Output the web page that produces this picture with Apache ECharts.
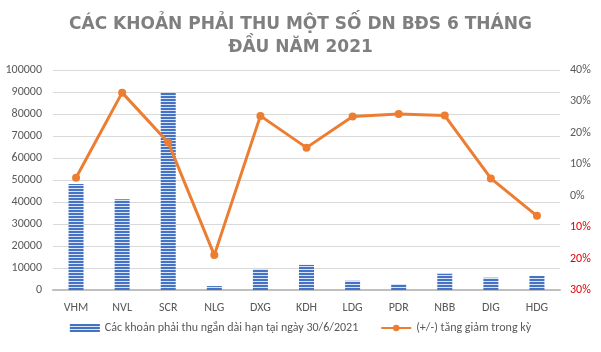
<!DOCTYPE html>
<html>
<head>
<meta charset="utf-8">
<script src="https://cdn.jsdelivr.net/npm/echarts@6/dist/echarts.min.js"></script>
<style>
html,body{margin:0;padding:0;background:#fff;}
#main{width:601px;height:352px;}
</style>
</head>
<body>
<div id="main"></div>
<script>
var categories = ['VHM','NVL','SCR','NLG','DXG','KDH','LDG','PDR','NBB','DIG','HDG'];
var receivables = [48200, 41200, 89500, 1800, 9500, 11400, 4200, 2700, 7400, 5600, 6400];
var changePct = [5.7, 32.8, 16.9, -18.9, 25.4, 15.3, 25.2, 26.0, 25.5, 5.5, -6.4];
var barName = 'Các khoản phải thu ngắn dài hạn tại ngày 30/6/2021';
var lineName = '(+/-) tăng giảm trong kỳ';

// striped fill like the excel bars
var stripe = document.createElement('canvas');
stripe.width = 4; stripe.height = 3;
var sctx = stripe.getContext('2d');
sctx.fillStyle = '#dbe4f5';
sctx.fillRect(0, 0, 4, 3);
sctx.fillStyle = '#4472C4';
sctx.fillRect(0, 0, 4, 2);

var font = 'Calibri, "Open Sans", "Noto Sans", sans-serif';
var chart = echarts.init(document.getElementById('main'));
chart.setOption({
    animation: false,
    title: {
        text: 'CÁC KHOẢN PHẢI THU MỘT SỐ DN BĐS 6 THÁNG\nĐẦU NĂM 2021',
        left: 'center',
        top: 8,
        textStyle: {
            fontFamily: '"DejaVu Sans", sans-serif',
            fontSize: 17,
            fontWeight: 'bold',
            color: '#7f7f7f',
            lineHeight: 23
        }
    },
    legend: {
        bottom: 13,
        left: 'center',
        itemGap: 22,
        itemWidth: 30,
        itemHeight: 8,
        textStyle: {fontFamily: font, fontSize: 12, color: '#595959'},
        data: [
            {name: barName, icon: 'rect'},
            {name: lineName}
        ]
    },
    grid: {left: 53, right: 41, top: 70, bottom: 62},
    xAxis: {
        type: 'category',
        data: categories,
        axisTick: {show: false},
        axisLine: {lineStyle: {color: '#bfbfbf', width: 2}},
        axisLabel: {fontFamily: font, fontSize: 12, color: '#595959', margin: 12}
    },
    yAxis: [
        {
            type: 'value',
            min: 0, max: 100000, interval: 10000,
            axisLine: {show: false},
            axisTick: {show: false},
            splitLine: {lineStyle: {color: '#d9d9d9'}},
            axisLabel: {
                fontFamily: font, fontSize: 12, color: '#595959', margin: 11,
                formatter: function (v) { return String(v); }
            }
        },
        {
            type: 'value',
            min: -30, max: 40, interval: 10,
            axisLine: {show: false},
            axisTick: {show: false},
            splitLine: {show: false},
            axisLabel: {
                fontFamily: font, fontSize: 12, color: '#595959', margin: 10,
                formatter: function (v) {
                    return v < 0 ? '{r|' + Math.abs(v) + '%}' : v + '%';
                },
                rich: {r: {color: '#e00000', fontFamily: font, fontSize: 12}}
            }
        }
    ],
    series: [
        {
            name: barName,
            type: 'bar',
            barWidth: 15,
            itemStyle: {color: {image: stripe, repeat: 'repeat'}},
            data: receivables
        },
        {
            name: lineName,
            type: 'line',
            yAxisIndex: 1,
            symbol: 'circle',
            symbolSize: 8,
            lineStyle: {color: '#ED7D31', width: 3},
            itemStyle: {color: '#ED7D31'},
            data: changePct
        }
    ]
});
</script>
</body>
</html>
